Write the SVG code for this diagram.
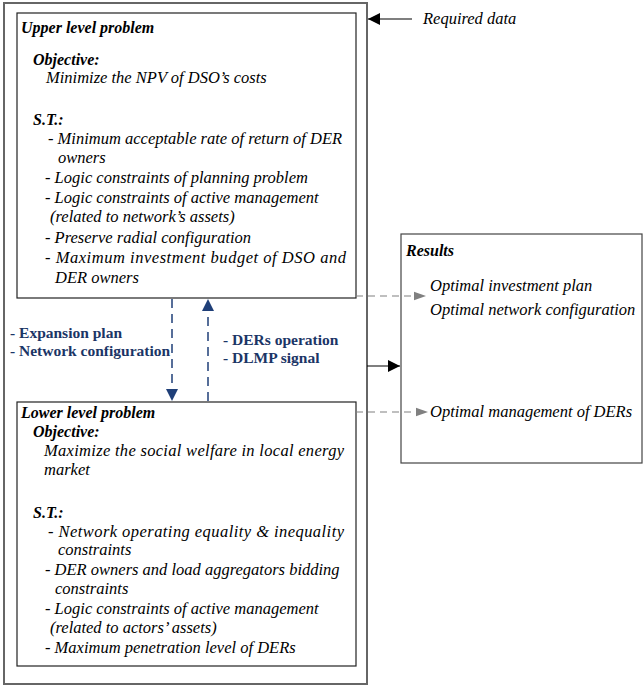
<svg xmlns="http://www.w3.org/2000/svg" width="644" height="687" viewBox="0 0 644 687">
<defs>
<marker id="ab" viewBox="0 0 10 10" refX="10" refY="5" markerWidth="12" markerHeight="12" markerUnits="userSpaceOnUse" orient="auto"><path d="M0,0L10,5L0,10z" fill="#000"/></marker>
<marker id="ag" viewBox="0 0 10 10" refX="10" refY="5" markerWidth="12" markerHeight="12" markerUnits="userSpaceOnUse" orient="auto"><path d="M0,1.5L10,5L0,8.5z" fill="#808080"/></marker>
<marker id="au" viewBox="0 0 10 10" refX="10" refY="5" markerWidth="12" markerHeight="12" markerUnits="userSpaceOnUse" orient="auto"><path d="M0,0L10,5L0,10z" fill="#1f3f78"/></marker>
</defs>
<g id="outer"><rect x="4" y="3" width="363" height="681" fill="#fff" stroke="#666" stroke-width="2"/></g>
<g id="upper">
<rect x="17" y="13" width="339" height="285" fill="#fff" stroke="#222" stroke-width="1.2"/>
<text font-family="Liberation Serif" font-size="16" font-style="italic" font-weight="bold" x="21" y="33">Upper level problem</text>
<text font-family="Liberation Serif" font-size="16" font-style="italic" font-weight="bold" x="33" y="65">Objective:</text>
<text font-family="Liberation Serif" font-size="16.5" font-style="italic" x="46" y="83">Minimize the NPV of DSO’s costs</text>
<text font-family="Liberation Serif" font-size="16" font-style="italic" font-weight="bold" x="33" y="125">S.T.:</text>
<text font-family="Liberation Serif" font-size="16.5" font-style="italic" x="48" y="144">- Minimum acceptable rate of return of DER</text>
<text font-family="Liberation Serif" font-size="16.5" font-style="italic" x="58" y="163">owners</text>
<text font-family="Liberation Serif" font-size="16.5" font-style="italic" x="45" y="183">- Logic constraints of planning problem</text>
<text font-family="Liberation Serif" font-size="16.5" font-style="italic" x="45" y="203">- Logic constraints of active management</text>
<text font-family="Liberation Serif" font-size="16.5" font-style="italic" x="50" y="222">(related to network’s assets)</text>
<text font-family="Liberation Serif" font-size="16.5" font-style="italic" x="45" y="243">- Preserve radial configuration</text>
<text font-family="Liberation Serif" font-size="16.5" font-style="italic" x="45" y="263" textLength="301" lengthAdjust="spacing">- Maximum investment budget of DSO and</text>
<text font-family="Liberation Serif" font-size="16.5" font-style="italic" x="55" y="283">DER owners</text>
</g>
<g id="lower">
<rect x="17" y="402" width="339" height="264" fill="#fff" stroke="#222" stroke-width="1.2"/>
<text font-family="Liberation Serif" font-size="16" font-style="italic" font-weight="bold" x="21" y="418">Lower level problem</text>
<text font-family="Liberation Serif" font-size="16" font-style="italic" font-weight="bold" x="33" y="437">Objective:</text>
<text font-family="Liberation Serif" font-size="16.5" font-style="italic" x="44" y="456" textLength="300" lengthAdjust="spacing">Maximize the social welfare in local energy</text>
<text font-family="Liberation Serif" font-size="16.5" font-style="italic" x="44" y="475">market</text>
<text font-family="Liberation Serif" font-size="16" font-style="italic" font-weight="bold" x="33" y="518">S.T.:</text>
<text font-family="Liberation Serif" font-size="16.5" font-style="italic" x="48" y="537" textLength="296" lengthAdjust="spacing">- Network operating equality &amp; inequality</text>
<text font-family="Liberation Serif" font-size="16.5" font-style="italic" x="58" y="555">constraints</text>
<text font-family="Liberation Serif" font-size="16.5" font-style="italic" x="45" y="575">- DER owners and load aggregators bidding</text>
<text font-family="Liberation Serif" font-size="16.5" font-style="italic" x="55" y="594">constraints</text>
<text font-family="Liberation Serif" font-size="16.5" font-style="italic" x="45" y="614">- Logic constraints of active management</text>
<text font-family="Liberation Serif" font-size="16.5" font-style="italic" x="50" y="633">(related to actors’ assets)</text>
<text font-family="Liberation Serif" font-size="16.5" font-style="italic" x="45" y="653">- Maximum penetration level of DERs</text>
</g>
<g id="results">
<rect x="401" y="234" width="241" height="229" fill="#fff" stroke="#444" stroke-width="1.2"/>
<text font-family="Liberation Serif" font-size="16" font-style="italic" font-weight="bold" x="406" y="256">Results</text>
<text font-family="Liberation Serif" font-size="16.5" font-style="italic" x="430" y="291">Optimal investment plan</text>
<text font-family="Liberation Serif" font-size="16.5" font-style="italic" x="430" y="315">Optimal network configuration</text>
<text font-family="Liberation Serif" font-size="16.5" font-style="italic" x="430" y="417">Optimal management of DERs</text>
</g>
<g id="required"><text font-family="Liberation Serif" font-size="16.5" font-style="italic" x="423" y="24">Required data</text></g>
<g id="labels">
<text font-family="Liberation Serif" font-size="15.5" font-weight="bold" fill="#1b3566" x="10" y="338">- Expansion plan</text>
<text font-family="Liberation Serif" font-size="15.5" font-weight="bold" fill="#1b3566" x="10" y="356">- Network configuration</text>
<text font-family="Liberation Serif" font-size="15.5" font-weight="bold" fill="#1b3566" x="223" y="345">- DERs operation</text>
<text font-family="Liberation Serif" font-size="15.5" font-weight="bold" fill="#1b3566" x="223" y="363">- DLMP signal</text>
</g>
<g id="connectors">
<line x1="412" y1="19" x2="368" y2="19" stroke="#000" stroke-width="1.2" marker-end="url(#ab)"/>
<line x1="367" y1="366" x2="400" y2="366" stroke="#000" stroke-width="1.2" marker-end="url(#ab)"/>
<line x1="356" y1="296" x2="426" y2="296" stroke="#808080" stroke-width="1.2" stroke-dasharray="7,5" marker-end="url(#ag)"/>
<line x1="356" y1="412" x2="428" y2="412" stroke="#808080" stroke-width="1.2" stroke-dasharray="7,5" marker-end="url(#ag)"/>
<line x1="172" y1="299" x2="172" y2="401" stroke="#1f3f78" stroke-width="1.5" stroke-dasharray="9,6" marker-end="url(#au)"/>
<line x1="208" y1="401" x2="208" y2="299" stroke="#1f3f78" stroke-width="1.5" stroke-dasharray="9,6" marker-end="url(#au)"/>
</g>
</svg>
